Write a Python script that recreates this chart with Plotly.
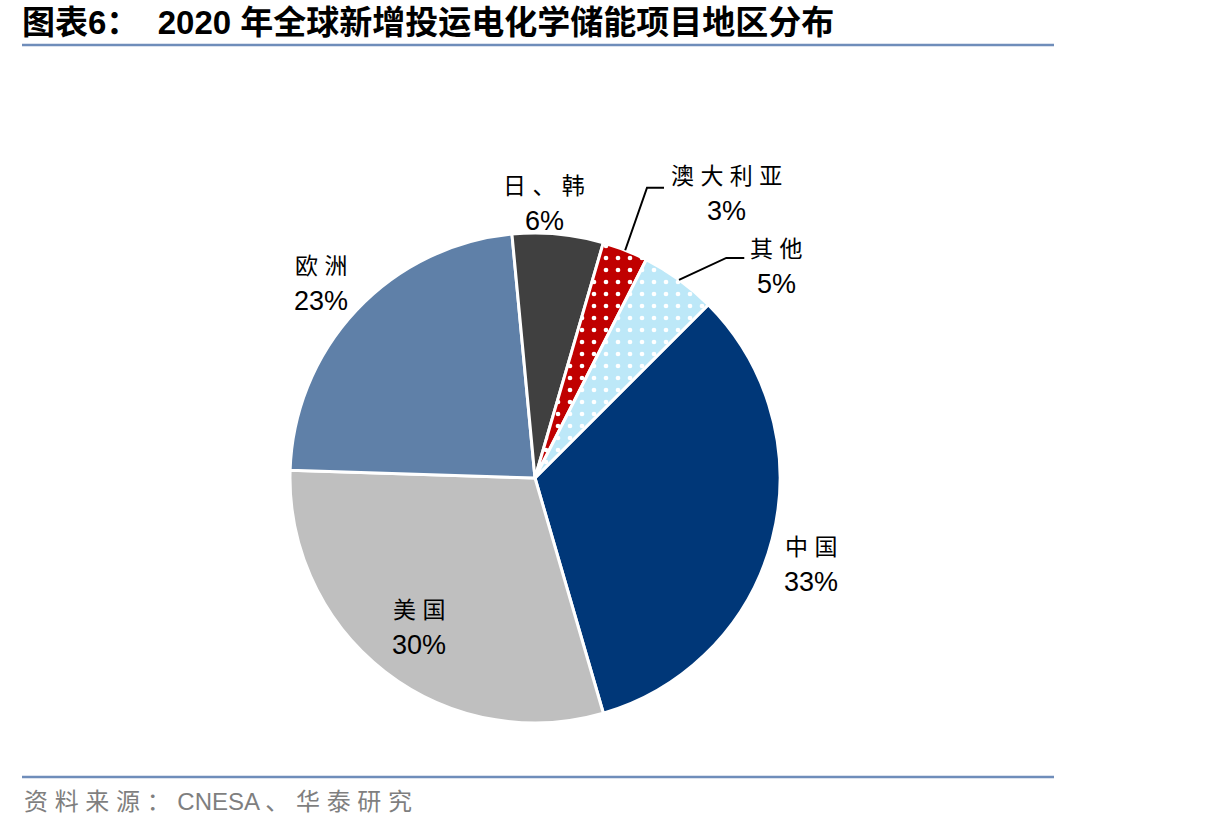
import math
import plotly.graph_objects as go

# ---- data ----
categories = ["中国", "美国", "欧洲", "日、韩", "澳大利亚", "其他"]
shares = [33, 30, 23, 6, 3, 5]

# ---- styles ----
colors = ["#003778", "#BFBFBF", "#5F80A8", "#404040", "#C00000", "#BDE8F8"]
patterns = ["", "", "", "", ".", "."]
W, H = 1206, 832
CX, CY, R = 535, 478, 245
ROT = 45
HALF_GAP = 17.5  # px between label line centres / 2

# label placement in polar terms: (radius factor, angle offset deg)
label_pos = {
    "中国": (1.18, 3.0),
    "美国": (0.77, 0.0),
    "欧洲": (1.18, -1.0),
    "日、韩": (1.12, -3.5),
    "澳大利亚": (1.40, 12.4),
    "其他": (1.31, 12.8),
}
# leader lines: (elbow radius factor, elbow angle offset, horizontal length px)
leaders = {
    "澳大利亚": (1.27, -0.5, 17),
    "其他": (1.19, 5.0, 18),
}


def px(x):
    return x / W


def py(y):
    return 1 - y / H


def polar(theta_deg, r):
    t = math.radians(theta_deg)
    return CX + r * math.sin(t), CY - r * math.cos(t)


fig = go.Figure(
    go.Pie(
        labels=categories,
        values=shares,
        sort=False,
        direction="clockwise",
        rotation=ROT,
        marker=dict(
            colors=colors,
            line=dict(color="white", width=3),
            pattern=dict(shape=patterns, fgcolor="white", bgcolor=colors,
                         size=12, solidity=0.12),
        ),
        textinfo="none",
        hoverinfo="label+percent",
        showlegend=False,
        domain=dict(x=[px(CX - R), px(CX + R)], y=[py(CY + R), py(CY - R)]),
    )
)

total = sum(shares)
cum = 0
annotations = []
shapes = []
for name, v in zip(categories, shares):
    start = ROT + 360 * cum / total
    cum += v
    end = ROT + 360 * cum / total
    mid = (start + end) / 2
    rf, da = label_pos[name]
    lx, ly = polar(mid + da, rf * R)
    spaced = " ".join(list(name))
    annotations.append(dict(
        x=px(lx), y=py(ly - HALF_GAP), xref="paper", yref="paper",
        xanchor="center", yanchor="middle", showarrow=False,
        text=spaced,
        font=dict(family="Liberation Sans, Noto Sans CJK SC", size=23, color="#000000"),
    ))
    annotations.append(dict(
        x=px(lx), y=py(ly + HALF_GAP), xref="paper", yref="paper",
        xanchor="center", yanchor="middle", showarrow=False,
        text=f"{v}%",
        font=dict(family="Liberation Sans, Arial, sans-serif", size=27, color="#000000"),
    ))
    if name in leaders:
        erf, eda, hl = leaders[name]
        sx, sy = polar(mid, R * 1.0)
        ex, ey = polar(mid + eda, erf * R)
        fx, fy = ex + hl, ey
        shapes.append(dict(
            type="path", xref="paper", yref="paper",
            path=f"M {px(sx)},{py(sy)} L {px(ex)},{py(ey)} L {px(fx)},{py(fy)}",
            line=dict(color="#000000", width=2),
        ))

# title and footer
annotations.append(dict(
    x=px(20), y=py(22), xref="paper", yref="paper", xanchor="left", yanchor="middle",
    showarrow=False,
    text="<b>图表6：  2020 年全球新增投运电化学储能项目地区分布</b>",
    font=dict(family="Liberation Sans Narrow, Liberation Sans, Noto Sans CJK SC", size=33, color="#000000"),
))
annotations.append(dict(
    x=px(22), y=py(801), xref="paper", yref="paper", xanchor="left", yanchor="middle",
    showarrow=False,
    text="资 料 来 源 ： CNESA 、 华 泰 研 究",
    font=dict(family="Liberation Sans, Noto Sans CJK SC", size=24, color="#7F7F7F"),
))
for yy in (45, 777):
    shapes.append(dict(type="line", xref="paper", yref="paper",
                       x0=px(22), x1=px(1054), y0=py(yy), y1=py(yy),
                       line=dict(color="#6F8DBA", width=2.5)))

fig.update_layout(
    width=W, height=H,
    margin=dict(l=0, r=0, t=0, b=0),
    paper_bgcolor="white", plot_bgcolor="white",
    annotations=annotations, shapes=shapes,
)

fig.write_html("out.html")
